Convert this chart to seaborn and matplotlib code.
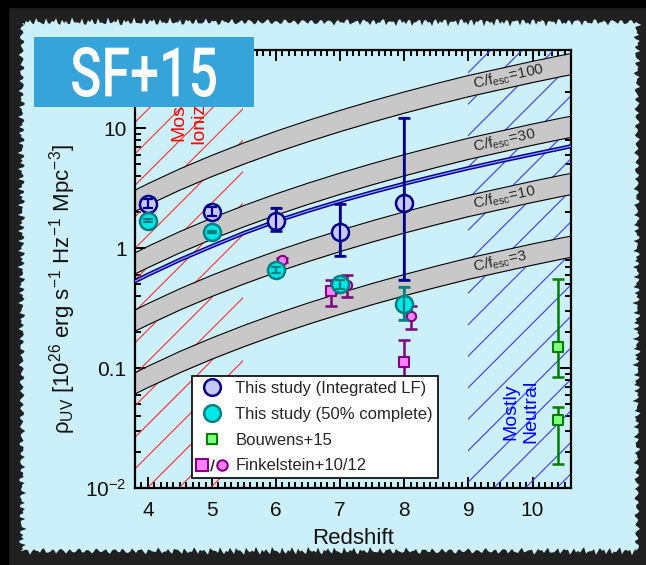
import numpy as np
import matplotlib
matplotlib.use("Agg")
import matplotlib.pyplot as plt
import seaborn as sns
from matplotlib.lines import Line2D
from matplotlib.patches import Rectangle, Polygon, PathPatch
from matplotlib.legend_handler import HandlerTuple
from matplotlib.textpath import TextPath
from matplotlib.font_manager import FontProperties
from matplotlib.transforms import Affine2D
from matplotlib.ticker import MultipleLocator, LogLocator, FixedLocator, FixedFormatter, NullFormatter

# ---------------- data ----------------
# This study, integrated luminosity function
z_lf = [4.0, 5.0, 6.0, 7.0, 8.0]
rho_lf = [2.35, 2.02, 1.70, 1.36, 2.40]
rho_lf_lo = [2.15, 1.85, 1.38, 0.86, 0.54]
rho_lf_hi = [2.57, 2.21, 2.18, 2.36, 12.3]

# This study, down to 50% completeness
z_50 = [4.0, 5.0, 6.0, 7.0, 8.0]
rho_50 = [1.70, 1.36, 0.66, 0.50, 0.344]
rho_50_lo = [1.66, 1.33, 0.62, 0.455, 0.25]
rho_50_hi = [1.75, 1.39, 0.70, 0.545, 0.475]

# Bouwens+15
z_b15 = [10.4, 10.4]
rho_b15 = [0.149, 0.037]
rho_b15_lo = [0.084, 0.016]
rho_b15_hi = [0.55, 0.047]

# Finkelstein+10 (squares) and Finkelstein+12 (circles)
z_f10 = [6.85, 8.0]
rho_f10 = [0.44, 0.112]
rho_f10_lo = [0.33, 0.06]
rho_f10_hi = [0.54, 0.17]

z_f12 = [6.1, 7.1, 8.1]
rho_f12 = [0.80, 0.49, 0.27]
rho_f12_lo = [0.77, 0.39, 0.21]
rho_f12_hi = [0.83, 0.60, 0.33]

# emissivity needed to keep the IGM ionized, per unit C/f_esc (band edges)
z_grid = [3.8, 4.0, 4.5, 5.0, 5.5, 6.0, 6.5, 7.0, 7.5, 8.0, 8.5, 9.0, 9.5, 10.0, 10.5, 10.6]
band_hi = [0.0305, 0.0345, 0.0459, 0.0595, 0.0757, 0.0946, 0.1163, 0.1411, 0.1693,
           0.2010, 0.2363, 0.2757, 0.3160, 0.3620, 0.4110, 0.4200]
band_lo = [0.0203, 0.0229, 0.0305, 0.0396, 0.0503, 0.0629, 0.0773, 0.0938, 0.1126,
           0.1337, 0.1571, 0.1833, 0.2101, 0.2407, 0.2733, 0.2793]
c_fesc = [3, 10, 30, 100]
rho_model = [0.53, 0.60, 0.80, 1.04, 1.34, 1.68, 2.05, 2.47, 2.93, 3.45, 4.02, 4.65,
             5.33, 6.07, 6.90, 7.10]

# ---------------- style ----------------
sns.set_theme(style="ticks")
plt.rcParams["font.family"] = ["Liberation Sans", "DejaVu Sans"]
plt.rcParams["mathtext.default"] = "regular"

BG = "#ccf0fa"
W, H = 646, 565

fig = plt.figure(figsize=(W / 100, H / 100), dpi=100)
fig.patch.set_facecolor("#202020")
px = Affine2D().scale(1 / W, 1 / H) + fig.transFigure


def jagged(t, seed):
    return (2.0 * np.sin(0.71 * t + seed) + 1.4 * np.sin(1.93 * t + 2 * seed)
            + 1.0 * np.sin(4.37 * t + 3 * seed) + 0.6 * np.sin(9.1 * t + seed))


# page frame: black strips, dark rough band, light panel
fig.add_artist(Rectangle((0, 0), 8, H, transform=px, color="black", zorder=-10))
fig.add_artist(Rectangle((0, H - 7), W, 7, transform=px, color="black", zorder=-10))
xl, xr, yb, yt = 22, 637, 14, 543
tx = np.arange(xl, xr + 1, 2.0)
ty = np.arange(yb, yt + 1, 2.0)
top = np.column_stack([tx, yt + jagged(tx, 0.3)])
right = np.column_stack([xr + jagged(ty[::-1], 1.1), ty[::-1]])
bottom = np.column_stack([tx[::-1], yb + jagged(tx[::-1], 2.2)])
left = np.column_stack([xl + jagged(ty, 0.7), ty])
fig.add_artist(Polygon(np.vstack([top, right, bottom, left]), closed=True,
                       transform=px, facecolor=BG, edgecolor="none", zorder=-9))

ax = fig.add_axes([135 / W, 77 / H, 436 / W, 438 / H])
ax.set_facecolor("none")
ax.set_yscale("log")
XLIM = (3.8, 10.6)
YLIM = (0.01, 45)
ax.set_xlim(*XLIM)
ax.set_ylim(*YLIM)

# hatched regions: mostly ionized (low z) and mostly neutral (high z)
def hatch_region(z0, z1, color):
    clip = Rectangle((z0, YLIM[0]), z1 - z0, YLIM[1] - YLIM[0], transform=ax.transData,
                     facecolor="none", edgecolor="none")
    ax.add_patch(clip)
    step = 31.5 / 436
    k = 436 / 438
    for x0 in np.arange(-1.2, 1.2, step):
        ln, = ax.plot([x0 - 1.5, x0 + 1.5], [-1.5 * k, 1.5 * k], transform=ax.transAxes,
                      color=color, lw=0.8, zorder=1)
        ln.set_clip_path(clip)


hatch_region(XLIM[0], 5.48, "#ff2a2a")
hatch_region(9.0, XLIM[1], "#3a3aff")

ax.text(4.64, 13.5, "Mostly\nIonized", rotation=90, ha="center", va="center",
        multialignment="center", color="#ff0000", fontsize=14, zorder=3)
ax.text(9.82, 0.0433, "Mostly\nNeutral", rotation=90, ha="center", va="center",
        multialignment="center", color="#0000ff", fontsize=14, zorder=3)

# C/f_esc bands
zg = np.array(z_grid)
bh = np.array(band_hi)
bl = np.array(band_lo)
for c in c_fesc:
    ax.fill_between(zg, bl * c, bh * c, color="#c8c8c8", lw=0, zorder=2)
    sns.lineplot(x=zg, y=bh * c, color="black", lw=0.8, ax=ax, zorder=2.5)
    sns.lineplot(x=zg, y=bl * c, color="black", lw=0.8, ax=ax, zorder=2.5)

# band labels, rotated along each band
zl = 9.08
for c in c_fesc:
    yc = c * np.sqrt(np.interp(zl, zg, bh) * np.interp(zl, zg, bl))
    y2 = c * np.sqrt(np.interp(10.0, zg, bh) * np.interp(10.0, zg, bl))
    p1 = ax.transData.transform((zl, yc))
    p2 = ax.transData.transform((10.0, y2))
    ang = np.degrees(np.arctan2(p2[1] - p1[1], p2[0] - p1[0]))
    ax.text(zl, yc, "C/f$_{esc}$=%d" % c, rotation=ang, rotation_mode="anchor",
            ha="left", va="center", fontsize=11, color="#2a2a2a", zorder=3)

# model emissivity curve (double line)
sns.lineplot(x=zg, y=rho_model, color="#00008b", lw=3.0, ax=ax, zorder=3)
sns.lineplot(x=zg, y=rho_model, color="#9a9aff", lw=0.9, ax=ax, zorder=3.1)


def errbars(z, y, lo, hi, color, zo=4, lw=1.8, cap=4):
    y = np.array(y)
    yerr = [y - np.array(lo), np.array(hi) - y]
    ax.errorbar(z, y, yerr=yerr, fmt="none", ecolor=color, elinewidth=lw,
                capsize=cap, capthick=lw, zorder=zo)


errbars(z_f10, rho_f10, rho_f10_lo, rho_f10_hi, "#800080")
errbars(z_f12, rho_f12, rho_f12_lo, rho_f12_hi, "#800080")
errbars(z_b15, rho_b15, rho_b15_lo, rho_b15_hi, "#008000")
sns.scatterplot(x=z_f10, y=rho_f10, marker="s", s=52, color="#ff80ff",
                edgecolor="#800080", linewidth=1.5, ax=ax, zorder=5)
sns.scatterplot(x=z_f12, y=rho_f12, marker="o", s=45, color="#ff80ff",
                edgecolor="#800080", linewidth=1.5, ax=ax, zorder=5)
sns.scatterplot(x=z_b15, y=rho_b15, marker="s", s=55, color="#80ff80",
                edgecolor="#008000", linewidth=1.5, ax=ax, zorder=5)

errbars(z_lf, rho_lf, rho_lf_lo, rho_lf_hi, "#00008b")
sns.scatterplot(x=z_lf, y=rho_lf, marker="o", s=150, color="#c8c8f4",
                edgecolor="#00008b", linewidth=1.8, ax=ax, zorder=5)
errbars(z_50, rho_50, rho_50_lo, rho_50_hi, "#008080")
sns.scatterplot(x=z_50, y=rho_50, marker="o", s=150, color="#00e8e8",
                edgecolor="#008080", linewidth=1.8, ax=ax, zorder=6)
# small error bars stay visible on top of the markers
errbars(z_lf, rho_lf, rho_lf_lo, rho_lf_hi, "#00008b", zo=7, lw=1.6, cap=3.5)
errbars(z_50, rho_50, rho_50_lo, rho_50_hi, "#008080", zo=7, lw=1.6, cap=3.5)

# axes cosmetics
for s in ax.spines.values():
    s.set_linewidth(1.6)
    s.set_color("black")
ax.xaxis.set_major_locator(FixedLocator([4, 5, 6, 7, 8, 9, 10]))
ax.xaxis.set_minor_locator(MultipleLocator(0.1))
ax.yaxis.set_major_locator(FixedLocator([0.01, 0.1, 1, 10]))
ax.yaxis.set_major_formatter(FixedFormatter(["$10^{-2}$", "0.1", "1", "10"]))
ax.yaxis.set_minor_locator(LogLocator(base=10, subs=np.arange(2, 10)))
ax.yaxis.set_minor_formatter(NullFormatter())
ax.tick_params(which="both", direction="in", top=True, right=True, width=1.4,
               color="black", labelsize=15, labelcolor="#111111")
ax.tick_params(which="major", length=8)
ax.tick_params(which="minor", length=4)
ax.tick_params(axis="x", which="major", pad=9)
ax.tick_params(axis="y", which="major", pad=6)

ax.set_xlabel("Redshift", fontsize=16, color="#111111", labelpad=6)
ax.set_ylabel("ρ$_{UV}$ [10$^{26}$ erg s$^{-1}$ Hz$^{-1}$ Mpc$^{-3}$]", fontsize=16,
              color="#111111")
ax.yaxis.set_label_coords(-0.13, 0.454)

# legend
h_lf = Line2D([], [], ls="none", marker="o", ms=12, mfc="#c8c8f4", mec="#00008b", mew=1.8)
h_50 = Line2D([], [], ls="none", marker="o", ms=12, mfc="#00e8e8", mec="#008080", mew=1.8)
h_b15 = Line2D([], [], ls="none", marker="s", ms=7.5, mfc="#80ff80", mec="#008000", mew=1.5)
h_f10 = Line2D([], [], ls="none", marker="s", ms=8, mfc="#ff80ff", mec="#800080", mew=1.5)
h_sl = Line2D([], [], ls="none", marker="$/$", ms=8, color="#222222", mew=0.3)
h_f12 = Line2D([], [], ls="none", marker="o", ms=7.5, mfc="#ff80ff", mec="#800080", mew=1.5)
leg = ax.legend([h_lf, h_50, h_b15, (h_f10, h_sl, h_f12)],
                ["This study (Integrated LF)", "This study (50% complete)", "Bouwens+15",
                 "Finkelstein+10/12"],
                handler_map={tuple: HandlerTuple(ndivide=None, pad=0.0)},
                loc="upper left", bbox_to_anchor=(0.131, 0.256), borderaxespad=0,
                frameon=True, fancybox=False, framealpha=1, edgecolor="black",
                fontsize=12, handlelength=1.8, handletextpad=0.5, borderpad=0.3,
                labelspacing=0.65)
leg.get_frame().set_linewidth(1.2)
leg.set_zorder(10)

# title badge
fig.add_artist(Rectangle((34, H - 107), 220, 70, transform=px, facecolor="#36a3d9",
                         edgecolor="none", zorder=20))
tp = TextPath((0, 0), "SF+15", size=100, prop=FontProperties(family="Roboto", weight="medium"))
bb = tp.get_extents()
tr = (Affine2D().translate(-bb.x0, -bb.y0)
      .scale(144 / bb.width, 50 / bb.height).translate(72, H - 97))
fig.add_artist(PathPatch(tr.transform_path(tp), transform=px, facecolor="white",
                         edgecolor="none", zorder=21))

fig.savefig("out.png", dpi=100, facecolor=fig.get_facecolor())
